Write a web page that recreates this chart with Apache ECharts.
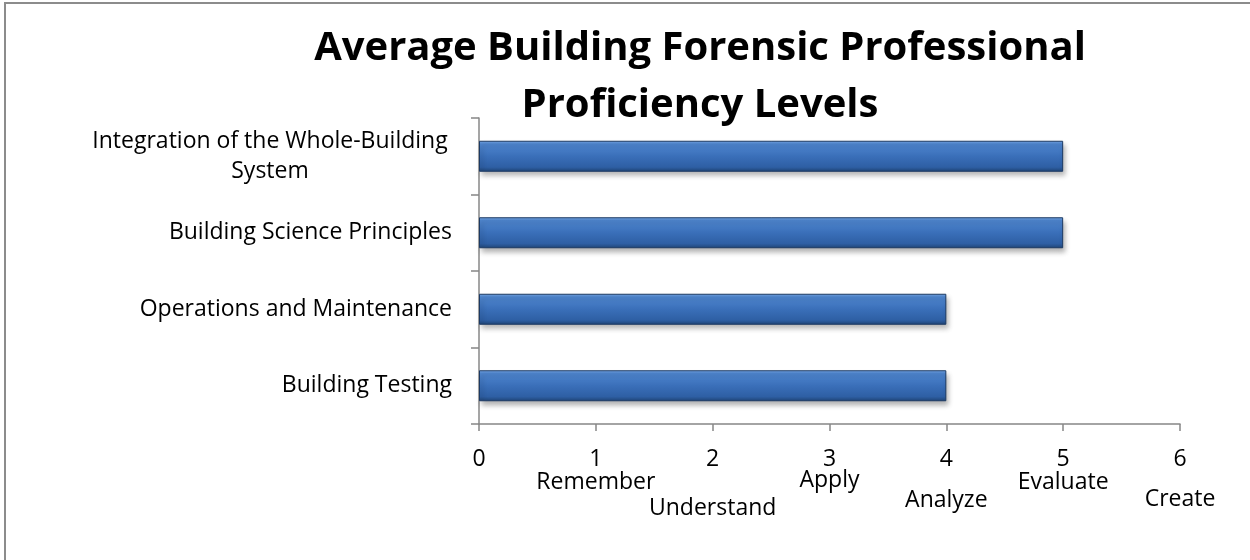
<!DOCTYPE html>
<html>
<head>
<meta charset="utf-8">
<script src="https://cdn.jsdelivr.net/npm/echarts@6/dist/echarts.min.js"></script>
<style>
html, body { margin: 0; padding: 0; background: #fff; }
#main { width: 1250px; height: 560px; }
</style>
</head>
<body>
<div id="main"></div>
<script>
var categories = ['Building Testing', 'Operations and Maintenance', 'Building Science Principles', 'Integration of the Whole-Building\nSystem'];
var proficiency = [4, 4, 5, 5];
var tickValues = [0, 1, 2, 3, 4, 5, 6];
var levelNames = ['', 'Remember', 'Understand', 'Apply', 'Analyze', 'Evaluate', 'Create'];
// vertical drop of each level name under its number (line height)
var levelDrop = [20, 24, 76, 20, 60, 24, 58];

var FONT = "'Open Sans', 'Liberation Sans', sans-serif";

var chart = echarts.init(document.getElementById('main'));

var rich = {
    n: { fontFamily: FONT, fontSize: 23, color: '#000', lineHeight: 22 }
};
levelNames.forEach(function (name, i) {
    rich['w' + i] = { fontFamily: FONT, fontSize: 23, color: '#000', lineHeight: levelDrop[i] };
});

var option = {
    animation: false,
    backgroundColor: '#fff',
    title: {
        text: 'Average Building Forensic Professional\nProficiency Levels',
        left: 695,
        top: 15,
        textAlign: 'center',
        textStyle: {
            fontFamily: FONT,
            fontWeight: 'bold',
            fontSize: 40,
            lineHeight: 57,
            color: '#000'
        }
    },
    graphic: [{
        type: 'rect',
        shape: { x: 5, y: 3, width: 1260, height: 570 },
        style: { fill: 'none', stroke: '#8c8c8c', lineWidth: 2 },
        silent: true
    }],
    grid: { left: 479, right: 70, top: 118, bottom: 136 },
    xAxis: {
        type: 'value',
        min: 0,
        max: 6,
        interval: 1,
        splitLine: { show: false },
        axisLine: { show: true, lineStyle: { color: '#878787', width: 1.5 } },
        axisTick: { show: true, length: 7, lineStyle: { color: '#878787', width: 1.5 } },
        axisLabel: {
            margin: 24,
            verticalAlign: 'top',
            formatter: function (v) {
                var i = tickValues.indexOf(v);
                var s = '{n|' + v + '}';
                if (levelNames[i]) s += '\n{w' + i + '|' + levelNames[i] + '}';
                return s;
            },
            rich: rich
        }
    },
    yAxis: {
        type: 'category',
        data: categories,
        axisLine: { show: true, lineStyle: { color: '#878787', width: 1.5 } },
        axisTick: { show: true, length: 8, lineStyle: { color: '#878787', width: 1.5 } },
        axisLabel: {
            margin: 27,
            color: '#000',
            fontFamily: FONT,
            fontSize: 23,
            lineHeight: 30,
            formatter: function (v) {
                if (v.indexOf('\n') >= 0) {
                    return v.split('\n').map(function (l) { return '{c|' + l + '}'; }).join('\n');
                }
                return v;
            },
            rich: {
                c: { fontFamily: FONT, fontSize: 23, color: '#000', lineHeight: 30, width: 364, align: 'center' }
            }
        }
    },
    series: [{
        type: 'bar',
        data: proficiency,
        barWidth: 31,
        itemStyle: {
            color: new echarts.graphic.LinearGradient(0, 0, 0, 1, [
                { offset: 0, color: '#7aaae6' },
                { offset: 0.1, color: '#4f86cf' },
                { offset: 0.5, color: '#3a6fb9' },
                { offset: 0.85, color: '#2e5fa4' },
                { offset: 1, color: '#1f4475' }
            ]),
            borderColor: '#1c3a63',
            borderWidth: 1,
            shadowColor: 'rgba(0,0,0,0.3)',
            shadowBlur: 5,
            shadowOffsetX: 2,
            shadowOffsetY: 4
        }
    }]
};

chart.setOption(option);
</script>
</body>
</html>
